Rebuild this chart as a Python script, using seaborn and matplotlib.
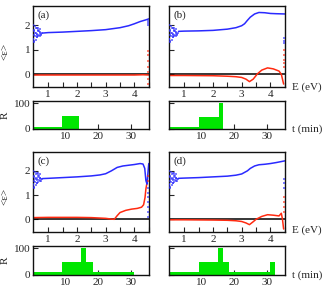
import numpy as np
import pandas as pd
import matplotlib
matplotlib.use("Agg")
import matplotlib.pyplot as plt
import seaborn as sns

# couleurs
BLUE = "#2a2aff"
RED = "#ff2a10"
GREEN = "#00e600"

# --- donnees ---
# nuage de points a basse energie (bleu), commun aux 4 panneaux
low_E = [0.48, 0.50, 0.52, 0.55, 0.58, 0.60, 0.62, 0.65, 0.68, 0.70, 0.72, 0.75,
         0.50, 0.53, 0.57, 0.60, 0.63, 0.66, 0.70, 0.74, 0.49, 0.55, 0.60, 0.65,
         0.70, 0.78, 0.52, 0.56, 0.62, 0.68, 0.47, 0.47]
low_blue = [1.45, 1.60, 1.80, 1.55, 1.70, 1.90, 1.50, 1.75, 1.62, 1.85, 1.70, 1.66,
            1.30, 1.95, 1.40, 1.65, 1.82, 1.55, 1.72, 1.60, 1.75, 1.68, 1.50, 1.90,
            1.58, 1.67, 1.35, 1.88, 1.62, 1.78, 2.00, 1.42]

# (a)
a_blue_E = [0.80, 1.0, 1.5, 2.0, 2.5, 3.0, 3.5, 3.8, 4.0, 4.2, 4.4, 4.5]
a_blue = [1.68, 1.70, 1.72, 1.75, 1.78, 1.82, 1.90, 1.98, 2.06, 2.15, 2.22, 2.26]
a_red_E = [0.47, 1.0, 2.0, 3.0, 4.0, 4.3, 4.5]
a_red = [-0.03, -0.03, -0.03, -0.03, -0.03, -0.02, -0.03]
a_end_blue = [2.00, 2.10, 2.18]
a_end_red = [0.95, 0.80, 0.55, 0.30, 0.10, -0.20, -0.38]

# (b)
b_blue_E = [0.80, 1.0, 1.5, 2.0, 2.5, 2.8, 3.0, 3.1, 3.2, 3.3, 3.45, 3.6, 3.8, 4.0, 4.2, 4.5]
b_blue = [1.75, 1.76, 1.77, 1.79, 1.84, 1.90, 1.98, 2.06, 2.20, 2.33, 2.46, 2.52, 2.51, 2.48, 2.47, 2.46]
b_red_E = [0.47, 1.0, 2.0, 2.5, 2.8, 3.0, 3.15, 3.27, 3.4, 3.55, 3.7, 3.9, 4.1, 4.3, 4.38, 4.42, 4.46]
b_red = [-0.05, -0.05, -0.06, -0.08, -0.10, -0.13, -0.20, -0.30, -0.20, 0.02, 0.17, 0.26, 0.22, 0.13, 0.0, -0.20, -0.40]
b_end_blue = [1.47, 1.35, 1.26]
b_end_red = [1.00, 0.80, 0.60, 0.45, 0.30]

# (c)
c_blue_E = [0.80, 1.0, 1.5, 2.0, 2.5, 2.8, 3.0, 3.2, 3.4, 3.6, 3.8, 4.0, 4.2, 4.3, 4.36, 4.4, 4.44, 4.47, 4.5]
c_blue = [1.68, 1.69, 1.72, 1.75, 1.79, 1.83, 1.88, 2.00, 2.14, 2.20, 2.23, 2.26, 2.30, 2.28, 2.10, 1.60, 1.45, 1.90, 2.30]
c_red_E = [0.47, 1.0, 2.0, 2.5, 3.0, 3.2, 3.3, 3.4, 3.5, 3.7, 3.9, 4.1, 4.25, 4.32, 4.37, 4.4, 4.43]
c_red = [0.07, 0.08, 0.08, 0.07, 0.04, 0.01, 0.0, 0.15, 0.28, 0.37, 0.42, 0.45, 0.50, 0.60, 0.90, 1.25, 1.45]
c_end_blue = [1.30, 1.10, 0.90, 0.70, 0.50, 0.30, 0.10]
c_end_red = [1.60, 1.80]

# (d)
d_blue_E = [0.80, 1.0, 1.5, 2.0, 2.5, 2.8, 3.0, 3.2, 3.3, 3.45, 3.6, 3.8, 4.0, 4.2, 4.5]
d_blue = [1.69, 1.70, 1.72, 1.75, 1.78, 1.82, 1.87, 2.00, 2.10, 2.20, 2.25, 2.27, 2.30, 2.34, 2.41]
d_red_E = [0.47, 1.0, 2.0, 2.5, 2.8, 3.0, 3.15, 3.27, 3.4, 3.5, 3.7, 3.9, 4.1, 4.3, 4.38, 4.42, 4.46]
d_red = [-0.02, -0.02, -0.03, -0.04, -0.06, -0.09, -0.15, -0.22, -0.10, 0.0, 0.12, 0.19, 0.17, 0.14, 0.25, 0.0, -0.40]
d_end_blue = [1.65, 1.50, 1.30]
d_end_red = [0.90, 0.70, 0.50, 0.30]

# histogrammes R(t)
a_edges = [0, 9, 14]
a_R = [8, 48]
b_edges = [0, 9.2, 15.2, 16.5]
b_R = [8, 46, 100]
c_edges = [0, 9, 14.8, 16.3, 18.3, 31]
c_R = [10, 50, 100, 50, 10]
d_edges = [0, 9.2, 14.9, 16.4, 18.4, 31.0, 32.3]
d_R = [10, 50, 100, 50, 10, 48]

END_E = 4.46


def draw_main(ax, blue_E, blue, red_E, red, end_blue, end_red, label, left):
    ax.axhline(0, color="black", lw=1.1, zorder=1)
    sns.lineplot(x=red_E, y=red, ax=ax, color=RED, lw=1.1, sort=False, zorder=2)
    sns.lineplot(x=blue_E, y=blue, ax=ax, color=BLUE, lw=1.1, sort=False, zorder=2)
    # points disperses (debut et fin de spectre)
    sns.scatterplot(x=low_E, y=low_blue, ax=ax, color=BLUE, s=0.7, marker="s",
                    linewidth=0, alpha=0.6, zorder=3)
    sns.scatterplot(x=[END_E] * len(end_blue), y=end_blue, ax=ax, color=BLUE, s=0.7,
                    marker="s", linewidth=0, alpha=0.6, zorder=3)
    sns.scatterplot(x=[END_E] * len(end_red), y=end_red, ax=ax, color=RED, s=0.7,
                    marker="s", linewidth=0, alpha=0.6, zorder=3)
    ax.set_xlim(0.47, 4.52)
    ax.set_ylim(-0.52, 2.78)
    ax.set_xticks([1, 2, 3, 4])
    ax.set_xticks([1.5, 2.5, 3.5, 4.5], minor=True)
    ax.set_yticks([0, 1, 2])
    ax.tick_params(which="both", direction="in", length=3.5, width=0.8, pad=2)
    ax.text(0.04, 0.89, label, transform=ax.transAxes, va="center", ha="left")
    ax.set_xlabel("")
    if left:
        ax.set_ylabel("<ε>")
        ax.yaxis.set_label_coords(-0.2, 0.44)
    else:
        ax.set_yticklabels([])
        ax.set_ylabel("")


def draw_hist(ax, edges, heights, left):
    sns.histplot(x=edges[:-1], weights=heights, bins=edges, ax=ax, color=GREEN,
                 alpha=1, edgecolor=GREEN, linewidth=0)
    ax.set_xlim(0, 35.6)
    ax.set_ylim(0, 108)
    ax.set_xticks([10, 20, 30])
    ax.set_yticks([0, 100])
    ax.tick_params(which="both", direction="in", length=3.5, width=0.8, pad=2)
    ax.set_xlabel("")
    if left:
        ax.set_ylabel("R")
        ax.yaxis.set_label_coords(-0.2, 0.5)
    else:
        ax.set_yticklabels([])
        ax.set_ylabel("")


def main():
    sns.set_style("ticks")
    plt.rcParams["font.family"] = ["Liberation Serif", "DejaVu Serif"]
    plt.rcParams["font.size"] = 8
    plt.rcParams["axes.linewidth"] = 1.0
    plt.rcParams["axes.edgecolor"] = "#111111"

    fig = plt.figure(figsize=(3.25, 2.91), dpi=100)

    xl, xr, wa = 0.1015, 0.52, 0.358
    ax_a = fig.add_axes([xl, 0.701, wa, 0.278])
    ax_ah = fig.add_axes([xl, 0.557, wa, 0.096])
    ax_b = fig.add_axes([xr, 0.701, wa, 0.278])
    ax_bh = fig.add_axes([xr, 0.557, wa, 0.096])
    ax_c = fig.add_axes([xl, 0.203, wa, 0.275])
    ax_ch = fig.add_axes([xl, 0.055, wa, 0.0997])
    ax_d = fig.add_axes([xr, 0.203, wa, 0.275])
    ax_dh = fig.add_axes([xr, 0.055, wa, 0.0997])

    draw_main(ax_a, a_blue_E, a_blue, a_red_E, a_red, a_end_blue, a_end_red, "(a)", True)
    draw_main(ax_b, b_blue_E, b_blue, b_red_E, b_red, b_end_blue, b_end_red, "(b)", False)
    draw_main(ax_c, c_blue_E, c_blue, c_red_E, c_red, c_end_blue, c_end_red, "(c)", True)
    draw_main(ax_d, d_blue_E, d_blue, d_red_E, d_red, d_end_blue, d_end_red, "(d)", False)

    draw_hist(ax_ah, a_edges, a_R, True)
    draw_hist(ax_bh, b_edges, b_R, False)
    draw_hist(ax_ch, c_edges, c_R, True)
    draw_hist(ax_dh, d_edges, d_R, False)

    # etiquettes des axes a droite
    fig.text(0.9, 0.70, "E (eV)", va="center", ha="left")
    fig.text(0.9, 0.557, "t (min)", va="center", ha="left")
    fig.text(0.9, 0.21, "E (eV)", va="center", ha="left")
    fig.text(0.9, 0.055, "t (min)", va="center", ha="left")

    fig.savefig("out.png", dpi=100)
    plt.close(fig)


if __name__ == "__main__":
    main()
